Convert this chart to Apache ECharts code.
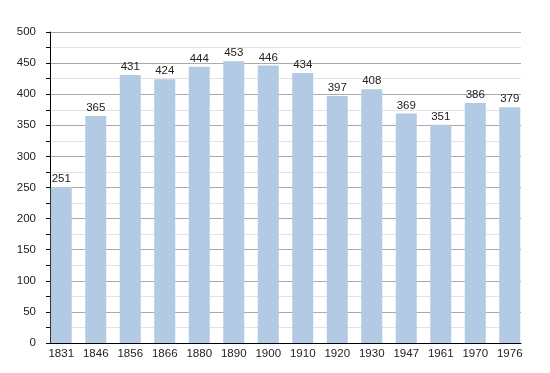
<!DOCTYPE html>
<html>
<head>
<meta charset="utf-8">
<script src="https://cdn.jsdelivr.net/npm/echarts@6/dist/echarts.min.js"></script>
<style>
html,body{margin:0;padding:0;background:#fff;}
#c{width:550px;height:373px;}
</style>
</head>
<body>
<div id="c"></div>
<script>
var years = ['1831','1846','1856','1866','1880','1890','1900','1910','1920','1930','1947','1961','1970','1976'];
var population = [251,365,431,424,444,453,446,434,397,408,369,351,386,379];
var yMin = 0, yMax = 500, yStep = 50;

var chart = echarts.init(document.getElementById('c'), null, {renderer:'canvas'});
var font = '"Liberation Sans Narrow", "Liberation Sans", Arial, sans-serif';
chart.setOption({
  animation: false,
  backgroundColor: '#ffffff',
  grid: [
    {left: 50, width: 471, top: 32, height: 311, containLabel: false},
    {left: 44, width: 483, top: 32, height: 311, containLabel: false}
  ],
  xAxis: [
    {gridIndex: 0, type: 'value', min: 0, max: 1,
     axisLine: {show: true, onZero: false, lineStyle: {color: '#000', width: 1}},
     axisTick: {show: false}, axisLabel: {show: false}, splitLine: {show: false}},
    {gridIndex: 1, type: 'category', data: years,
     axisLine: {show: false}, axisTick: {show: false},
     axisLabel: {color: '#222', fontFamily: font, fontSize: 11.5, margin: 5, interval: 0}}
  ],
  yAxis: [
    {gridIndex: 0, type: 'value', min: yMin, max: yMax, interval: yStep,
     axisLine: {show: true, lineStyle: {color: '#000', width: 1}},
     axisTick: {show: true, length: 4, lineStyle: {color: '#000'}},
     minorTick: {show: true, splitNumber: 2, length: 4, lineStyle: {color: '#000'}},
     axisLabel: {color: '#222', fontFamily: font, fontSize: 11.5, margin: 14},
     splitLine: {show: true, lineStyle: {color: '#aaaaaa', width: 1}},
     minorSplitLine: {show: true, lineStyle: {color: '#e2e2e2', width: 1}}},
    {gridIndex: 1, type: 'value', min: yMin, max: yMax, interval: yStep, show: false}
  ],
  series: [{
    type: 'bar',
    xAxisIndex: 1, yAxisIndex: 1,
    data: population,
    barWidth: 21,
    itemStyle: {color: '#b2cae4'},
    label: {show: true, position: 'top', distance: 2, color: '#222', fontFamily: font, fontSize: 11.5}
  }]
});
</script>
</body>
</html>
